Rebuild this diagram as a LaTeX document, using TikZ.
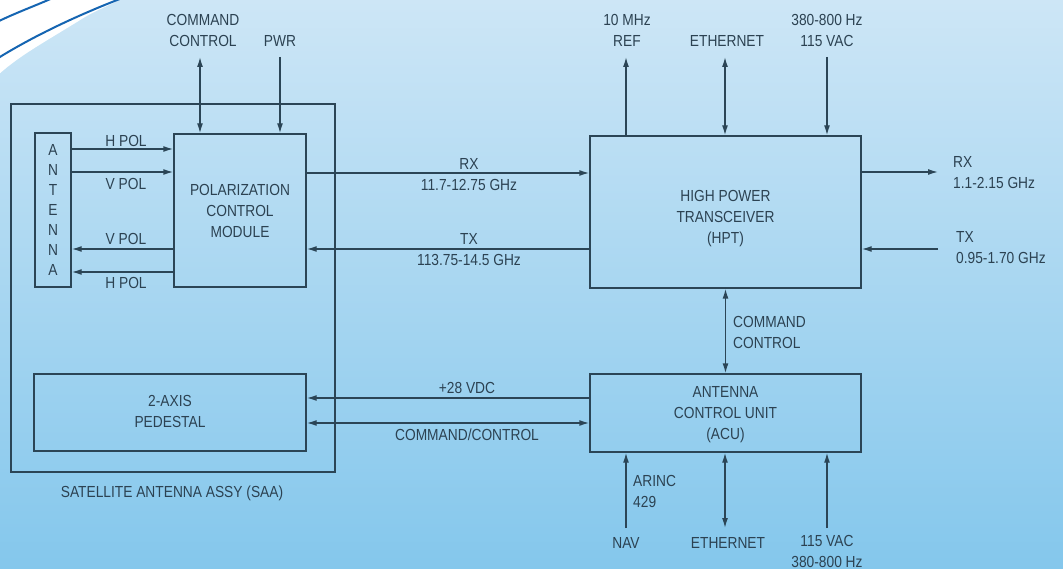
\documentclass[tikz,border=0pt]{standalone}
\usepackage{fontspec}
\setmainfont{Liberation Sans}[FakeStretch=0.86]
\usetikzlibrary{arrows.meta}
\definecolor{bgtop}{HTML}{CDE6F6}
\definecolor{bgbot}{HTML}{84C7EC}
\definecolor{ln}{HTML}{2B4556}
\definecolor{tx}{HTML}{2C4252}
\definecolor{swblue}{HTML}{1565B2}
\begin{document}
\begin{tikzpicture}[x=1pt,y=-1pt,
  font=\fontsize{16}{21}\selectfont, text=tx,
  box/.style={draw=ln, line width=1.4pt, inner sep=0pt, align=center, text=tx},
  lab/.style={inner sep=0pt, align=center, text=tx},
  conn/.style={draw=ln, line width=1.4pt},
  tip/.tip={Latex[length=10pt,width=6pt]},
  arr/.style={conn, -tip},
  darr/.style={conn, tip-tip},
  swline/.style={draw=swblue, line width=2pt}]
\useasboundingbox (0,0) rectangle (1063,569);
% background
\shade[top color=bgtop, bottom color=bgbot] (0,0) rectangle (1063,569);
\begin{scope}
\clip (0,0) rectangle (1063,569);
\fill[white] (-2,-2) -- (123,-2) .. controls (110,5) and (95,11) .. (85,17)
   .. controls (45,42) and (20,55) .. (-2,75) -- cycle;
\draw[swline] (-5,23) .. controls (15,13) and (35,6) .. (55,-3);
\draw[swline] (-5,60) .. controls (30,38) and (75,16) .. (125,-3);
\end{scope}
% boxes
\node[box, minimum width=324pt, minimum height=368pt] (saa) at (173,288) {};
\node[box, minimum width=36pt, minimum height=154pt,
      font=\fontsize{16}{20}\selectfont] (ant) at (53,210) {A\\N\\T\\E\\N\\N\\A};
\node[box, minimum width=132pt, minimum height=153pt] (pcm) at (240,210.5)
      {POLARIZATION\\CONTROL\\MODULE};
\node[box, minimum width=272pt, minimum height=77pt] (ped) at (170,412.5) {};
\node[lab] (pedlab) at (170,411.5) {2-AXIS\\PEDESTAL};
\node[box, minimum width=271pt, minimum height=152pt] (hpt) at (725.5,212) {};
\node[lab] (hptlab) at (725.5,219) {HIGH POWER\\TRANSCEIVER\\(HPT)};
\node[box, minimum width=271pt, minimum height=78pt] (acu) at (725.5,413) {};
\node[lab] (aculab) at (725.5,415) {ANTENNA\\CONTROL UNIT\\(ACU)};
\node[lab] (saalab) at (172,493) {SATELLITE ANTENNA ASSY (SAA)};
% antenna <-> PCM
\draw[arr] (ant.east |- 0,149) -- (pcm.west |- 0,149);
\draw[arr] (ant.east |- 0,172) -- (pcm.west |- 0,172);
\draw[arr] (pcm.west |- 0,249) -- (ant.east |- 0,249);
\draw[arr] (pcm.west |- 0,272) -- (ant.east |- 0,272);
\node[lab] (hpol1) at (126,141) {H POL};
\node[lab] (vpol1) at (126,184) {V POL};
\node[lab] (vpol2) at (126,239) {V POL};
\node[lab] (hpol2) at (126,283) {H POL};
% PCM top inputs
\coordinate (cmdtop) at (200,57);
\coordinate (pwrtop) at (280,57);
\draw[darr] (cmdtop) -- (cmdtop |- pcm.north);
\draw[arr] (pwrtop) -- (pwrtop |- pcm.north);
\node[lab] (cmdlab) at (203,30.5) {COMMAND\\CONTROL};
\node[lab] (pwrlab) at (280,41) {PWR};
% PCM <-> HPT
\draw[arr] (pcm.east |- 0,173) -- (hpt.west |- 0,173);
\draw[arr] (hpt.west |- 0,249) -- (pcm.east |- 0,249);
\node[lab] (rxlab) at (469,174.5) {RX\\11.7-12.75 GHz};
\node[lab] (txlab) at (469,249.5) {TX\\113.75-14.5 GHz};
% HPT top
\coordinate (ref) at (626,57);
\coordinate (eth1) at (725,57);
\coordinate (ac1) at (827,57);
\draw[arr] (ref |- hpt.north) -- (ref);
\draw[darr] (eth1) -- (eth1 |- hpt.north);
\draw[arr] (ac1) -- (ac1 |- hpt.north);
\node[lab] (reflab) at (627,30.5) {10 MHz\\REF};
\node[lab] (eth1lab) at (727,41) {ETHERNET};
\node[lab] (ac1lab) at (827,30.5) {380-800 Hz\\115 VAC};
% HPT right
\coordinate (rxout) at (938,172);
\coordinate (txin) at (938,249);
\draw[arr] (hpt.east |- rxout) -- (rxout);
\draw[arr] (txin) -- (txin -| hpt.east);
\node[lab, align=left, anchor=west] (rx2lab) at (953,173) {RX\\1.1-2.15 GHz};
\node[lab, align=left, anchor=west] (tx2lab) at (956,248) {TX\\0.95-1.70 GHz};
% HPT <-> ACU
\draw[darr] (hpt.south) -- (acu.north);
\node[lab, align=left, anchor=west] (cmd2lab) at (733,332.5) {COMMAND\\CONTROL};
% ACU <-> pedestal
\draw[arr] (acu.west |- 0,398) -- (ped.east |- 0,398);
\draw[darr] (ped.east |- 0,423) -- (acu.west |- 0,423);
\node[lab] (vdclab) at (467,388) {+28 VDC};
\node[lab] (cclab) at (467,435) {COMMAND/CONTROL};
% ACU bottom
\coordinate (nav) at (626,528);
\coordinate (eth2) at (725,528);
\coordinate (ac2) at (827,528);
\draw[arr] (nav) -- (nav |- acu.south);
\draw[darr] (acu.south -| eth2) -- (eth2);
\draw[arr] (ac2) -- (ac2 |- acu.south);
\node[lab, align=left, anchor=west] (arinclab) at (633,491) {ARINC\\429};
\node[lab] (navlab) at (626,543) {NAV};
\node[lab] (eth2lab) at (728,543) {ETHERNET};
\node[lab] (ac2lab) at (827,551) {115 VAC\\380-800 Hz};
\end{tikzpicture}
\end{document}
